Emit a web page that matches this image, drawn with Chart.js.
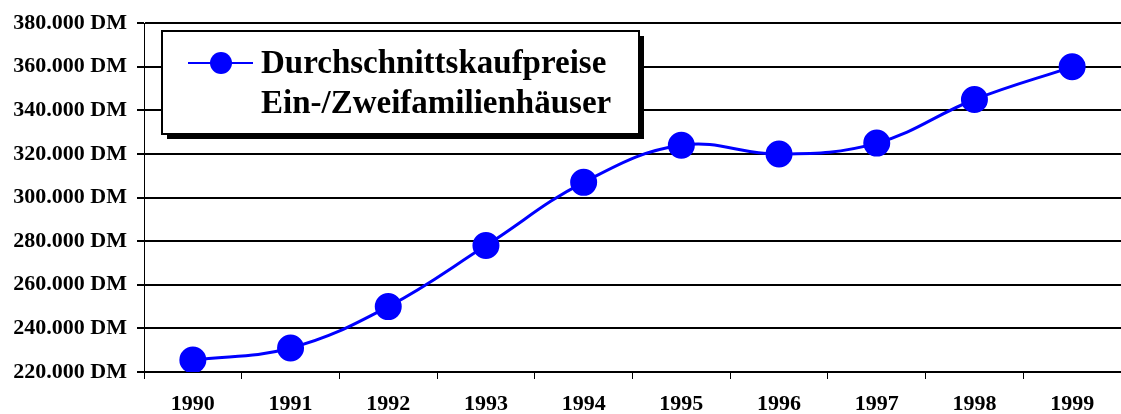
<!DOCTYPE html>
<html>
<head>
<meta charset="utf-8">
<script src="https://cdn.jsdelivr.net/npm/chart.js@4/dist/chart.umd.min.js"></script>
<style>
  html, body { margin: 0; padding: 0; background: #fff; }
  #wrap { width: 1121px; height: 414px; }
</style>
</head>
<body>
<div id="wrap"><canvas id="c" width="1121" height="414"></canvas></div>
<script>
// ── Data ──────────────────────────────────────────────────────────────────────
const years  = ['1990','1991','1992','1993','1994','1995','1996','1997','1998','1999'];
const prices = [225500, 231000, 250000, 278000, 307000, 324000, 320000, 325000, 345000, 360000];
const seriesLabel = ['Durchschnittskaufpreise', 'Ein-/Zweifamilienhäuser'];
const yMin = 220000, yMax = 380000, yStep = 20000;

const serif = '"Liberation Serif", "Times New Roman", serif';

function fmtDM(v) {
  return String(v / 1000) + '.000 DM';
}

// boxed legend with drop shadow, like the old spreadsheet chart
const boxLegend = {
  id: 'boxLegend',
  afterDraw(chart) {
    const ctx = chart.ctx;
    const ds  = chart.data.datasets[0];
    const x = 162, y = 31, w = 477, h = 103;
    ctx.save();
    ctx.fillStyle = '#000';
    ctx.fillRect(x + 5, y + 5, w, h);
    ctx.fillStyle = '#fff';
    ctx.fillRect(x, y, w, h);
    ctx.strokeStyle = '#000';
    ctx.lineWidth = 2;
    ctx.strokeRect(x, y, w, h);
    // sample line + marker
    ctx.strokeStyle = ds.borderColor;
    ctx.lineWidth = 2;
    ctx.beginPath(); ctx.moveTo(188, 63); ctx.lineTo(253, 63); ctx.stroke();
    ctx.fillStyle = ds.pointBackgroundColor;
    ctx.beginPath(); ctx.arc(221, 63, 11, 0, Math.PI * 2); ctx.fill();
    // label
    ctx.fillStyle = '#000';
    ctx.font = 'bold 33px ' + serif;
    ctx.textBaseline = 'middle';
    ctx.textAlign = 'left';
    ds.label.forEach((t, i) => ctx.fillText(t, 261, 64 + i * 40));
    ctx.restore();
  }
};

new Chart(document.getElementById('c'), {
  type: 'line',
  data: {
    labels: years,
    datasets: [{
      label: seriesLabel,
      data: prices,
      borderColor: '#0000FF',
      borderWidth: 3,
      pointBackgroundColor: '#0000FF',
      pointBorderColor: '#0000FF',
      pointRadius: 12,
      tension: 0.4,
      fill: false
    }]
  },
  options: {
    responsive: false,
    animation: false,
    layout: { autoPadding: false, padding: { top: 20, right: 0, left: 0, bottom: 0 } },
    plugins: { legend: { display: false }, tooltip: { enabled: false } },
    scales: {
      x: {
        offset: true,
        grid: { offset: true, drawOnChartArea: false, drawTicks: true, tickLength: 7, color: '#000', lineWidth: 1 },
        border: { display: true, color: '#000', width: 1 },
        ticks: { color: '#000', padding: 12, maxRotation: 0, font: { family: serif, size: 22, weight: 'bold' } },
        afterFit(s) { s.height = 42; s.paddingLeft = 0; s.paddingRight = 0; }
      },
      y: {
        min: yMin, max: yMax,
        grid: { color: '#000', lineWidth: 2, tickLength: 7, drawTicks: true },
        border: { display: true, color: '#000', width: 1 },
        ticks: {
          stepSize: yStep, color: '#000', padding: 10,
          font: { family: serif, size: 22, weight: 'bold' },
          callback: v => fmtDM(v)
        },
        afterFit(s) { s.width = 144; }
      }
    }
  },
  plugins: [boxLegend]
});
</script>
</body>
</html>
